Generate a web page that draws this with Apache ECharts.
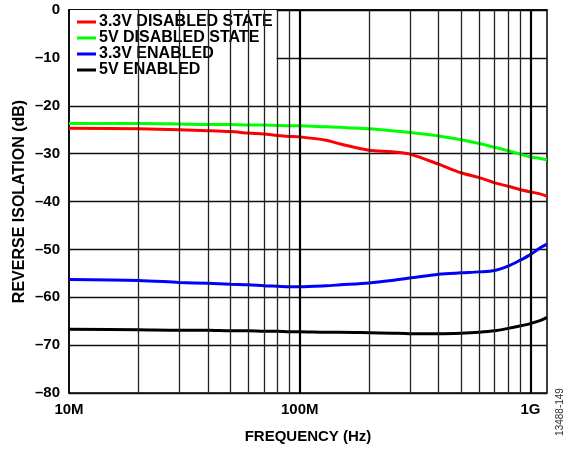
<!DOCTYPE html>
<html>
<head>
<meta charset="utf-8">
<script src="https://cdn.jsdelivr.net/npm/echarts@6/dist/echarts.min.js"></script>
<style>
  html, body { margin: 0; padding: 0; background: #fff; }
  #chart { width: 570px; height: 450px; }
</style>
</head>
<body>
<div id="chart"></div>
<script>
// frequency points (Hz)
var freqs = [1e7, 2e7, 3e7, 4e7, 5e7, 6e7, 7e7, 8e7, 9e7, 1e8, 1.3e8, 1.5e8, 2e8, 2.5e8, 3e8, 4e8, 5e8, 6e8, 7e8, 8e8, 9e8, 1e9, 1.1e9, 1.18e9]
// reverse isolation (dB)
var dis33 = [-24.7, -24.8, -25.0, -25.2, -25.4, -25.7, -25.9, -26.2, -26.4, -26.5, -27.2, -28.0, -29.3, -29.6, -30.1, -32.2, -34.0, -35.0, -36.1, -36.8, -37.5, -38.0, -38.4, -38.9]
var dis5 = [-23.7, -23.7, -23.8, -23.9, -23.9, -24.0, -24.0, -24.1, -24.2, -24.2, -24.4, -24.5, -24.8, -25.2, -25.6, -26.3, -27.1, -27.9, -28.7, -29.4, -30.1, -30.7, -31.0, -31.3]
var en33 = [-56.3, -56.5, -56.9, -57.1, -57.3, -57.4, -57.6, -57.7, -57.8, -57.8, -57.6, -57.4, -57.0, -56.5, -56.0, -55.2, -54.9, -54.7, -54.4, -53.5, -52.3, -51.1, -49.7, -48.9]
var en5 = [-66.7, -66.8, -66.9, -66.9, -67.0, -67.0, -67.1, -67.1, -67.2, -67.2, -67.3, -67.3, -67.4, -67.5, -67.6, -67.6, -67.5, -67.3, -67.0, -66.5, -66.0, -65.5, -64.9, -64.2]
// vertical grid lines
var minorGrid = [2e7, 3e7, 4e7, 5e7, 6e7, 7e7, 8e7, 9e7, 2e8, 3e8, 4e8, 5e8, 6e8, 7e8, 8e8, 9e8]
var decadeGrid = [1e8, 1e9]
var xLabels = { 1e7: '10M', 1e8: '100M', 1e9: '1G' }

var font = '"Liberation Sans", Arial, sans-serif'

function pairs (ys) {
  return freqs.map(function (f, i) { return [f, ys[i]] })
}

function curve (name, color, ys) {
  return {
    name: name,
    type: 'line',
    data: pairs(ys),
    smooth: 0.3,
    symbol: 'none',
    z: 3,
    lineStyle: { color: color, width: 3 },
    itemStyle: { color: color }
  }
}

var gridLines = []
minorGrid.forEach(function (f) {
  gridLines.push({ xAxis: f, lineStyle: { color: '#222', width: 1.3, type: 'solid' } })
})
decadeGrid.forEach(function (f) {
  gridLines.push({ xAxis: f, lineStyle: { color: '#000', width: 2.2, type: 'solid' } })
})

var chart = echarts.init(document.getElementById('chart'))
chart.setOption({
  animation: false,
  grid: {
    left: 69,
    right: 23,
    top: 10,
    bottom: 57,
    show: true,
    borderColor: '#000',
    borderWidth: 1.5,
    backgroundColor: 'transparent'
  },
  legend: {
    data: ['3.3V DISABLED STATE', '5V DISABLED STATE', '3.3V ENABLED', '5V ENABLED'],
    orient: 'vertical',
    left: 70,
    top: 10,
    padding: [4, 4, 5, 7],
    itemGap: 0,
    itemWidth: 19,
    itemHeight: 3,
    icon: 'rect',
    backgroundColor: '#fff',
    selectedMode: false,
    textStyle: {
      fontFamily: font,
      fontWeight: 'bold',
      fontSize: 16,
      color: '#000',
      lineHeight: 16,
      padding: [0, 0, 0, -2]
    }
  },
  xAxis: {
    type: 'log',
    logBase: 10,
    min: 1e7,
    max: 1.18e9,
    name: 'FREQUENCY (Hz)',
    nameLocation: 'middle',
    nameGap: 36,
    nameMoveOverlap: false,
    nameTextStyle: { fontFamily: font, fontWeight: 'bold', fontSize: 15, color: '#000' },
    axisLine: { show: true, lineStyle: { color: '#000', width: 1.5 } },
    axisTick: { show: false },
    splitLine: { show: false },
    axisLabel: {
      fontFamily: font,
      fontWeight: 'bold',
      fontSize: 15,
      color: '#000',
      margin: 9,
      showMaxLabel: true,
      formatter: function (v) {
        var e = Math.log10(v)
        if (Math.abs(e - Math.round(e)) > 1e-6) return ''
        return xLabels[Math.pow(10, Math.round(e))] || ''
      }
    }
  },
  yAxis: {
    type: 'value',
    min: -80,
    max: 0,
    interval: 10,
    name: 'REVERSE ISOLATION (dB)',
    nameLocation: 'middle',
    nameGap: 41,
    nameMoveOverlap: false,
    nameTextStyle: { fontFamily: font, fontWeight: 'bold', fontSize: 16, color: '#000' },
    axisLine: { show: true, lineStyle: { color: '#000', width: 1.5 } },
    axisTick: { show: false },
    splitLine: { show: true, lineStyle: { color: '#111', width: 1.3 } },
    axisLabel: {
      fontFamily: font,
      fontWeight: 'bold',
      fontSize: 15,
      color: '#000',
      margin: 9,
      formatter: function (v) {
        return v === 0 ? '0' : '\u2013' + Math.abs(v)
      }
    }
  },
  series: [
    {
      name: 'grid',
      type: 'line',
      data: [],
      z: 1,
      silent: true,
      markLine: {
        silent: true,
        symbol: 'none',
        label: { show: false },
        animation: false,
        data: gridLines
      }
    },
    curve('3.3V DISABLED STATE', '#ff0000', dis33),
    curve('5V DISABLED STATE', '#00ff00', dis5),
    curve('3.3V ENABLED', '#0000ff', en33),
    curve('5V ENABLED', '#000000', en5)
  ],
  graphic: [{
    type: 'text',
    x: 560,
    y: 412,
    rotation: Math.PI / 2,
    style: {
      text: '13488-149',
      fontFamily: font,
      fontSize: 10,
      fill: '#333',
      align: 'center',
      verticalAlign: 'middle'
    }
  }]
})
</script>
</body>
</html>
